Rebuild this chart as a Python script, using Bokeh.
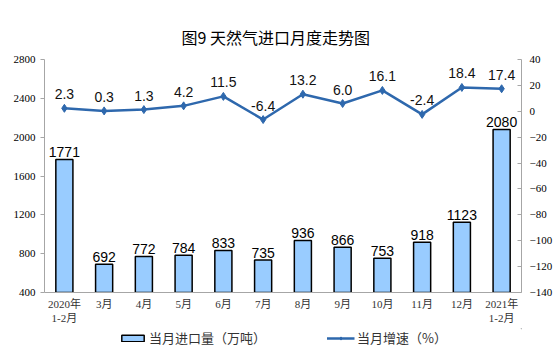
from bokeh.plotting import figure
from bokeh.layouts import column
from bokeh.models import (ColumnDataSource, Range1d, LinearAxis, FixedTicker, FactorRange,
                          Legend, LegendItem, Title, LabelSet)
from bokeh.core.properties import value
from bokeh.embed import file_html
from bokeh.resources import INLINE

categories = ["2020年\n1-2月", "3月", "4月", "5月", "6月", "7月", "8月", "9月",
              "10月", "11月", "12月", "2021年\n1-2月"]
imports = [1771, 692, 772, 784, 833, 735, 936, 866, 753, 918, 1123, 2080]
growth = [2.3, 0.3, 1.3, 4.2, 11.5, -6.4, 13.2, 6.0, 16.1, -2.4, 18.4, 17.4]
left_ticks = [400, 800, 1200, 1600, 2000, 2400, 2800]
right_ticks = [-140, -120, -100, -80, -60, -40, -20, 0, 20, 40]
series_names = ["当月进口量（万吨）", "当月增速（%）"]

src = ColumnDataSource(dict(
    cat=categories, imp=imports, gr=growth,
    imp_lbl=[str(v) for v in imports],
    gr_lbl=[f"{v:.1f}" for v in growth],
))

CJK = "'Liberation Serif', 'Noto Sans CJK SC'"
AXIS_COLOR = "#A6A6A6"
BAR_FILL = "#99CCFF"
LINE_COLOR = "#2E68AD"

p = figure(width=560, height=328, x_range=FactorRange(*categories),
           y_range=Range1d(400, 2800), output_backend="svg", toolbar_location=None,
           min_border_left=44, min_border_right=39, min_border_top=59, min_border_bottom=36)
p.outline_line_color = None
p.xgrid.grid_line_color = None
p.ygrid.grid_line_color = None

p.extra_y_ranges = {"y2": Range1d(-140, 40)}

p.title = Title(text="图9 天然气进口月度走势图", align="left",
                text_font="Noto Sans CJK SC", text_font_size="16px",
                text_font_style="normal", text_color="#000000", standoff=22, offset=137)

yl = p.yaxis[0]
yl.ticker = FixedTicker(ticks=left_ticks)
yl.axis_line_color = AXIS_COLOR
yl.major_tick_line_color = AXIS_COLOR
yl.major_tick_out = 4
yl.major_tick_in = 0
yl.minor_tick_line_color = None
yl.major_label_text_font = "Liberation Serif"
yl.major_label_text_font_size = "11px"
yl.major_label_text_color = "#000000"

yr = LinearAxis(y_range_name="y2", ticker=FixedTicker(ticks=right_ticks))
yr.axis_line_color = AXIS_COLOR
yr.major_tick_line_color = AXIS_COLOR
yr.major_tick_out = 0
yr.major_tick_in = 4
yr.minor_tick_line_color = None
yr.major_label_text_font = "Liberation Serif"
yr.major_label_text_font_size = "11px"
yr.major_label_text_color = "#000000"
yr.major_label_standoff = 8
p.add_layout(yr, "right")

xa = p.xaxis[0]
xa.axis_line_color = AXIS_COLOR
xa.major_tick_line_color = None
xa.major_tick_out = 0
xa.major_tick_in = 0
xa.major_label_text_font = CJK
xa.major_label_text_font_size = "11px"
xa.major_label_text_color = "#333333"
xa.major_label_standoff = 5

p.vbar(x="cat", top="imp", bottom=400, width=0.43, source=src,
       fill_color=BAR_FILL, line_color="#000000", line_width=1.5)
p.line(x="cat", y="gr", source=src, y_range_name="y2",
       line_color=LINE_COLOR, line_width=2.5)
p.scatter(x="cat", y="gr", source=src, y_range_name="y2", marker="diamond",
          size=8, fill_color=LINE_COLOR, line_color=LINE_COLOR)

p.add_layout(LabelSet(x="cat", y="imp", text="imp_lbl", source=src, text_align="center",
                      text_baseline="bottom", y_offset=2, text_font=value("Liberation Sans"),
                      text_font_size="14px", text_color="#000000"))
p.add_layout(LabelSet(x="cat", y="gr", text="gr_lbl", source=src, y_range_name="y2",
                      text_align="center", text_baseline="bottom", y_offset=9,
                      text_font=value("Liberation Sans"), text_font_size="14px",
                      text_color="#111111"))

# legend strip (glyph data lies outside the strip's visible range)
lg = figure(width=560, height=28, x_range=Range1d(0, 1), y_range=Range1d(0, 1),
            output_backend="svg", toolbar_location=None, min_border=0)
lg.axis.visible = False
lg.grid.grid_line_color = None
lg.outline_line_color = None
r_bar = lg.vbar(x=[9], top=[9], bottom=[8], width=0.5, fill_color=BAR_FILL,
                line_color="#000000", line_width=1.5)
r_line = lg.line(x=[9, 10], y=[9, 10], line_color=LINE_COLOR, line_width=2.5)
r_pts = lg.scatter(x=[9], y=[9], marker="diamond", size=8, fill_color=LINE_COLOR,
                   line_color=LINE_COLOR)
legend = Legend(items=[LegendItem(label=series_names[0], renderers=[r_bar]),
                       LegendItem(label=series_names[1], renderers=[r_line, r_pts])],
                orientation="horizontal", location="top_center", spacing=60,
                glyph_width=28, glyph_height=8, label_text_font="Noto Sans CJK SC",
                label_text_font_size="13px", label_text_color="#333333",
                border_line_color=None, background_fill_alpha=0, padding=2, margin=0,
                label_standoff=3)
lg.add_layout(legend, "center")

layout = column(p, lg, spacing=0)
open("out.html", "w").write(file_html(layout, INLINE))
